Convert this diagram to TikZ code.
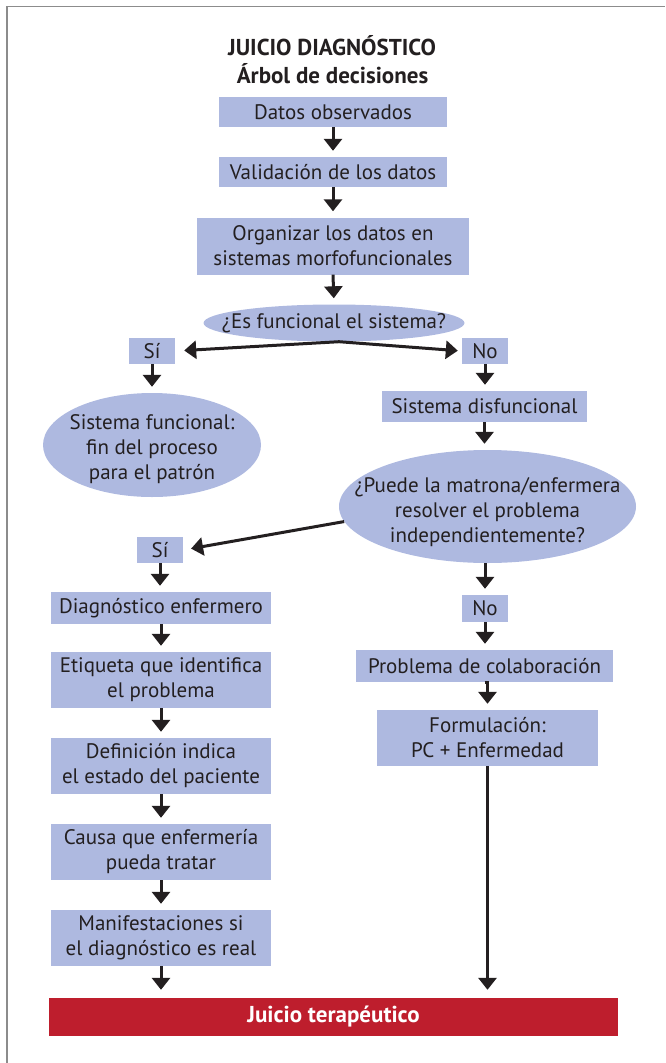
\documentclass[tikz,border=0pt]{standalone}
\usepackage{fontspec}
\setmainfont{PT Sans}
\usetikzlibrary{shapes.geometric,arrows.meta}
\definecolor{boxblue}{RGB}{174,185,224}
\definecolor{ink}{RGB}{35,31,32}
\definecolor{barred}{RGB}{190,30,45}
\definecolor{framegray}{RGB}{140,140,140}

\begin{document}
\begin{tikzpicture}[x=1pt,y=-1pt,
			box/.style={rectangle,fill=boxblue,inner sep=0pt,align=center},
			oval/.style={ellipse,fill=boxblue,inner sep=0pt},
			heading/.style={font=\fontsize{23}{28}\selectfont\bfseries},
			arr/.style={-{Triangle[width=18pt,length=12pt]},line width=3pt,draw=ink,shorten >=6pt}]
			\tikzstyle{every node}=[font=\fontsize{21}{25}\selectfont,text=ink]
		\useasboundingbox (0,0) rectangle (665,1063);
		\draw[framegray,line width=1.5pt] (7,1063) -- (7,6.5) -- (665,6.5);

		\node[anchor=base,heading] (t1) at (332,55) {JUICIO DIAGNÓSTICO};
		\node[anchor=base,heading] (t2) at (332.5,83) {Árbol de decisiones};

		\node[box,minimum width=228pt,minimum height=30pt] (d1) at (333,112) {Datos observados};
		\node[box,minimum width=228pt,minimum height=30pt] (d2) at (333,172) {Validación de los datos};
		\node[box,minimum width=272pt,minimum height=57pt] (d3) at (333,246) {Organizar los datos en\\sistemas morfofuncionales};
		\node[oval,minimum width=261pt,minimum height=37pt] (q1) at (334,323) {};
		\node (q1t) at (q1) {¿Es funcional el sistema?};

		\node[box,minimum width=46pt,minimum height=26pt] (si1) at (152,351) {Sí};
		\node[box,minimum width=46pt,minimum height=26pt] (no1) at (485,351) {No};
		\node[oval,minimum width=218pt,minimum height=104pt] (f1) at (152,445) {};
		\node[align=center,yshift=-4pt] (f1t) at (f1) {Sistema funcional:\\fin del proceso\\para el patrón};
		\node[box,minimum width=205pt,minimum height=31pt] (dis) at (484.5,406.5) {Sistema disfuncional};
		\node[oval,minimum width=297pt,minimum height=113pt] (q2) at (487.5,506.5) {};
		\node[align=center,yshift=-6pt] (q2t) at (q2) {¿Puede la matrona/enfermera\\resolver el problema\\independientemente?};

		\node[box,minimum width=46pt,minimum height=26pt] (si2) at (160,550) {Sí};
		\node[box,minimum width=46pt,minimum height=27pt] (no2) at (485,608.5) {No};

		\node[box,minimum width=220pt,minimum height=32pt] (l1) at (161,608) {Diagnóstico enfermero};
		\node[box,minimum width=220pt,minimum height=56pt] (l2) at (161,680) {Etiqueta que identifica\\el problema};
		\node[box,minimum width=220pt,minimum height=56pt] (l3) at (161,766) {Definición indica\\el estado del paciente};
		\node[box,minimum width=220pt,minimum height=56pt] (l4) at (161,852) {Causa que enfermería\\pueda tratar};
		\node[box,minimum width=220pt,minimum height=56pt] (l5) at (161,938) {Manifestaciones si\\el diagnóstico es real};

		\node[box,minimum width=257pt,minimum height=32pt] (r1) at (484.5,666) {Problema de colaboración};
		\node[box,minimum width=221pt,minimum height=56pt] (r2) at (487.5,738) {Formulación:\\PC + Enfermedad};

		\node[rectangle,fill=barred,minimum width=569pt,minimum height=38pt,inner sep=0pt,text=white,
			heading] (jt) at (333.5,1017) {Juicio terapéutico};

		\draw[arr] (d1.south) -- (d2.north);
		\draw[arr] (d2.south) -- (d3.north);
		\draw[arr] (d3.south) -- (q1.north);
		\draw[arr,shorten >=9pt] ([xshift=5pt]q1.south) -- (si1.east);
		\draw[arr,shorten >=4pt] ([xshift=5pt]q1.south) -- (no1.west);
		\draw[arr] (si1.south) -- (f1.north);
		\draw[arr] (no1.south) -- (no1.south |- dis.north);
		\draw[arr] (dis.south) -- (dis.south |- q2.north);
		\draw[arr,shorten >=8pt] (q2.186) -- (si2.east);
		\draw[arr] (no2.north |- q2.south) -- (no2.north);
		\draw[arr] (si2.south) -- (si2.south |- l1.north);
		\draw[arr] (l1.south) -- (l2.north);
		\draw[arr] (l2.south) -- (l3.north);
		\draw[arr] (l3.south) -- (l4.north);
		\draw[arr] (l4.south) -- (l5.north);
		\draw[arr,shorten >=8pt] (l5.south) -- (l5.south |- jt.north);
		\draw[arr] (no2.south) -- (no2.south |- r1.north);
		\draw[arr] (r1.south) -- (r1.south -| r2.north) -- (r2.north);
		\draw[arr,shorten >=8pt] (r2.south) -- (r2.south |- jt.north);
	\end{tikzpicture}
\end{document}
